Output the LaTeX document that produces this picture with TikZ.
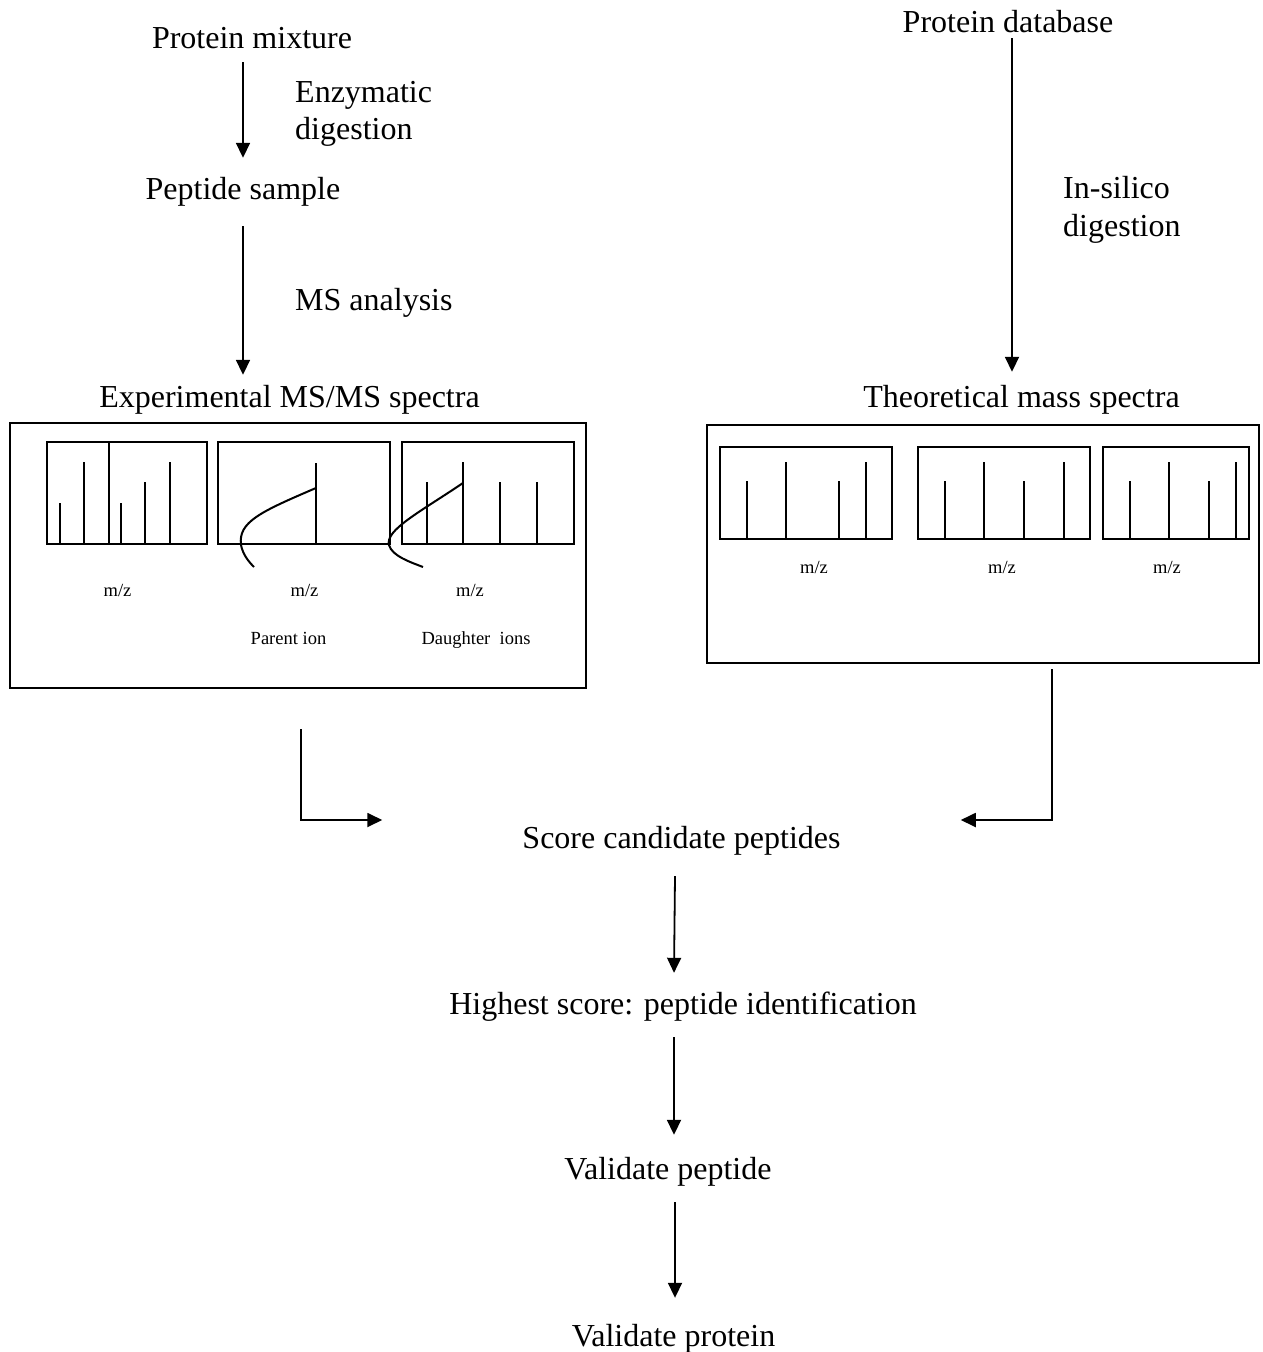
\documentclass[tikz,border=0pt]{standalone}
\usepackage{fontspec}
\setmainfont{Liberation Serif}
\usetikzlibrary{arrows.meta}
\begin{document}
\begin{tikzpicture}[x=1pt,y=-1pt,
  lbl/.style={font=\fontsize{32}{38}\selectfont, inner sep=0pt, text height=22pt, text depth=7pt, anchor=base},
  side/.style={lbl, anchor=base west},
  small/.style={font=\fontsize{18.5}{22}\selectfont, inner sep=0pt, anchor=base},
  frame/.style={draw, line width=2.4pt, inner sep=0pt},
  panel/.style={line width=2pt},
  peak/.style={line width=2pt},
  ion/.style={line width=2pt},
  arr/.style={line width=1.8pt, -{Triangle[length=15pt,width=14pt]}}
]
\useasboundingbox (0,0) rectangle (1262,1352);

% ---- text nodes ----
\node[lbl]  (pm)    at (252,48)    {Protein mixture};
\node[side] (enz1)  at (295,102)   {Enzymatic};
\node[side] (enz2)  at (295,139)   {digestion};
\node[lbl]  (ps)    at (243,199)   {Peptide sample};
\node[side] (msa)   at (295,310)   {MS analysis};
\node[lbl]  (exp)   at (289.5,407) {Experimental MS/MS spectra};
\node[lbl]  (pdb)   at (1008,32)   {Protein database};
\node[side] (ins1)  at (1063,198)  {In-silico};
\node[side] (ins2)  at (1063,236)  {digestion};
\node[lbl]  (theo)  at (1021.5,407) {Theoretical mass spectra};
\node[lbl]  (score) at (681.5,848) {Score candidate peptides};
\node[lbl]  (high)  at (683,1014)  {Highest score: peptide identification};
\node[lbl]  (valpep) at (668,1179) {Validate peptide};
\node[lbl]  (valprot) at (673.5,1346) {Validate protein};

% ---- spectra frames ----
\node[frame, minimum width=576pt, minimum height=265pt] (expbox) at (298,555.5) {};
\node[frame, minimum width=552pt, minimum height=238pt] (theobox) at (983,544) {};

% experimental panels
\draw[panel] (46.5,442) rectangle (206.5,544);
\draw[panel] (218,442) rectangle (389.5,544);
\draw[panel] (402,442) rectangle (573.5,544);
\foreach \x/\t in {59.5/503, 84/461.5, 120.5/503, 145/482, 169.5/461.5}
  \draw[peak] (\x,544) -- (\x,\t);
\draw[peak] (108.5,442) -- (108.5,544);
\draw[peak] (316,544) -- (316,463);
\foreach \x/\t in {426.5/482, 463/461.5, 500/482, 536.5/482}
  \draw[peak] (\x,544) -- (\x,\t);
% fragmentation curves
\draw[ion] (316,488) .. controls (260,512) and (238,522) .. (241,545)
           .. controls (243,555) and (249,562) .. (254,567);
\draw[ion] (463,483) .. controls (420,512) and (385,530) .. (389,545)
           .. controls (392,556) and (410,562) .. (423,567);
\node[small] (mz1) at (117.5,596) {m/z};
\node[small] (mz2) at (304.5,596) {m/z};
\node[small] (mz3) at (470,596)   {m/z};
\node[small] (par) at (288.5,644) {Parent ion};
\node[small] (dau) at (476,644)   {Daughter\ \ ions};

% theoretical panels
\draw[panel] (720,446.5) rectangle (892,539);
\draw[panel] (918,446.5) rectangle (1090,539);
\draw[panel] (1102.5,446.5) rectangle (1248.5,539);
\foreach \x/\t in {746.5/481, 785.5/462, 839/481, 865.5/462,
                   944.5/481, 984/462, 1024/481, 1063.5/462,
                   1129.5/481, 1169/462, 1208.5/481, 1235.5/462}
  \draw[peak] (\x,539) -- (\x,\t);
\node[small] (mz4) at (814,573)  {m/z};
\node[small] (mz5) at (1002,573) {m/z};
\node[small] (mz6) at (1167,573) {m/z};

% ---- connectors ----
\draw[arr] ([xshift=-9pt,yshift=-7pt]pm.south) -- ([yshift=19pt]ps.north);
\draw[arr] ([yshift=-20pt]ps.south) -- ([xshift=-46.5pt,yshift=10pt]exp.north);
\draw[arr] ([xshift=4pt,yshift=1pt]pdb.south) -- ([xshift=-9.5pt,yshift=13pt]theo.north);
\draw[arr] ([xshift=3pt,yshift=-40pt]expbox.south) |- ([xshift=-140pt,yshift=20.5pt]score.west);
\draw[arr] ([xshift=69pt,yshift=-5pt]theobox.south) |- ([xshift=120pt,yshift=20.5pt]score.east);
\draw[arr] ([xshift=-6.5pt,yshift=-21pt]score.south) -- ([xshift=-9pt,yshift=19pt]high.north);
\draw[arr] ([xshift=-9pt,yshift=-16pt]high.south) -- ([xshift=6pt,yshift=22pt]valpep.north);
\draw[arr] ([xshift=7pt,yshift=-16pt]valpep.south) -- ([xshift=1.5pt,yshift=26pt]valprot.north);
\end{tikzpicture}
\end{document}
